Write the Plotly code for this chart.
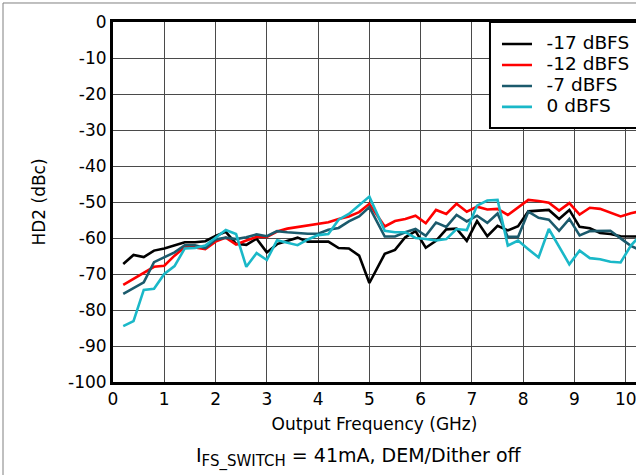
import plotly.graph_objects as go

freq_ghz = [0.2, 0.4, 0.6, 0.8, 1.0, 1.2, 1.4, 1.6, 1.8, 2.0, 2.2, 2.4, 2.6, 2.8, 3.0,
            3.2, 3.4, 3.6, 3.8, 4.0, 4.2, 4.4, 4.6, 4.8, 5.0,
            5.3, 5.5, 5.7, 5.9, 6.1, 6.3, 6.5, 6.7, 6.9, 7.1, 7.3, 7.5, 7.7, 7.9, 8.1,
            8.3, 8.5, 8.7, 8.9, 9.1, 9.3, 9.5, 9.7, 9.9, 10.1, 10.3]

hd2_m17 = [-67.2, -64.7, -65.3, -63.5, -62.9, -62.1, -61.2, -61.2, -60.9, -59.4, -58.3, -61.6, -61.9,
           -60.2, -64.0, -61.7, -60.8, -59.9, -61.0, -61.0, -61.0, -62.8, -62.9, -64.9, -72.5,
           -64.4, -63.3, -59.8, -58.1, -62.7, -60.8, -57.6, -57.4, -60.8, -55.3, -59.5, -56.6, -57.9,
           -56.7, -52.6, -52.5, -52.2, -54.7, -52.2, -56.9, -57.3, -58.6, -58.9, -59.5, -59.6, -59.6]

hd2_m12 = [-73.0, -71.4, -69.6, -68.0, -67.7, -64.9, -62.6, -62.6, -63.1, -61.0, -59.9, -61.8, -60.7,
           -59.7, -59.7, -58.2, -57.4, -57.0, -56.5, -56.2, -55.6, -54.7, -54.0, -52.8, -50.5,
           -56.8, -55.3, -54.7, -53.8, -55.9, -52.2, -53.3, -50.5, -52.7, -51.3, -52.1, -51.9, -53.6,
           -51.4, -49.4, -49.7, -50.2, -52.4, -50.3, -53.5, -51.6, -51.9, -53.0, -54.0, -53.1, -52.5]

hd2_m7 = [-75.5, -73.8, -72.3, -66.7, -65.4, -64.0, -62.0, -62.0, -62.8, -60.4, -59.9, -60.3, -59.8,
          -59.0, -59.5, -58.1, -58.4, -58.7, -58.8, -58.8, -57.7, -57.2, -55.4, -54.0, -51.4,
          -59.6, -59.6, -58.4, -57.5, -59.4, -55.7, -56.9, -53.6, -55.4, -53.8, -55.8, -53.2, -59.7,
          -59.7, -52.7, -54.4, -54.9, -58.0, -54.7, -59.3, -58.1, -58.0, -58.0, -60.1, -62.2, -63.5]

hd2_0 = [-84.5, -83.1, -74.4, -74.1, -70.0, -67.8, -62.9, -62.8, -62.1, -60.0, -57.8, -58.9, -68.0,
         -64.2, -66.1, -60.6, -61.4, -62.0, -60.4, -59.2, -58.9, -54.9, -53.3, -51.0, -48.5,
         -58.0, -58.4, -58.4, -60.0, -60.3, -60.7, -60.3, -57.5, -57.8, -51.0, -49.6, -49.4, -62.1,
         -60.7, -63.1, -65.4, -57.5, -62.6, -67.3, -63.5, -65.6, -65.9, -66.6, -66.8, -62.1, -59.0]

series_names = ["-17 dBFS", "-12 dBFS", "-7 dBFS", "0 dBFS"]
series_colors = ["#000000", "#ff0000", "#1b5a6c", "#1ab8c8"]
series_values = [hd2_m17, hd2_m12, hd2_m7, hd2_0]

x_ticks = [0, 1, 2, 3, 4, 5, 6, 7, 8, 9, 10]
y_ticks = [0, -10, -20, -30, -40, -50, -60, -70, -80, -90, -100]

FONT = "DejaVu Sans, Liberation Sans, sans-serif"

fig = go.Figure()
for name, color, vals in zip(series_names, series_colors, series_values):
    fig.add_trace(go.Scatter(
        x=freq_ghz, y=vals, mode="lines",
        name="<span style='font-size:18.5px'>\u00a0\u2009" + name + "</span>",
        line=dict(color=color, width=2.6)))

fig.update_layout(
    width=636, height=475,
    margin=dict(l=113, r=0, t=22, b=93, autoexpand=False),
    paper_bgcolor="white", plot_bgcolor="white",
    font=dict(family=FONT, size=17, color="black"),
    showlegend=True,
    legend=dict(x=0.7342, y=0.9817, xanchor="left", yanchor="top",
                bgcolor="rgba(0,0,0,0)", borderwidth=0,
                font=dict(size=13.8, family=FONT), tracegroupgap=0),
    xaxis=dict(range=[0, 10.2], tickvals=x_ticks, ticktext=[str(v) for v in x_ticks],
               showgrid=True, gridcolor="#4a4a4a", gridwidth=1.2,
               showline=True, linecolor="black", linewidth=3, mirror=True,
               ticks="", zeroline=False, tickfont=dict(size=17), ticklabeloverflow="allow",
               title=dict(text="Output Frequency (GHz)", standoff=10, font=dict(size=17))),
    yaxis=dict(range=[-100, 0], tickvals=y_ticks, ticktext=[str(v) for v in y_ticks],
               showgrid=True, gridcolor="#4a4a4a", gridwidth=1.2,
               showline=True, linecolor="black", linewidth=3, mirror=True,
               ticks="", zeroline=False, tickfont=dict(size=17),
               title=dict(text="HD2 (dBc)", standoff=19, font=dict(size=17))),
    annotations=[dict(text="I<sub><span style='font-size:15px'>FS_SWITCH</span></sub> = 41mA, DEM/Dither off",
                      xref="paper", yref="paper", x=0.47, y=-0.211,
                      xanchor="center", yanchor="middle", showarrow=False,
                      font=dict(size=19, family=FONT))],
    shapes=[dict(type="rect", xref="paper", yref="paper",
                 x0=-0.2103, x1=1.01, y0=-0.28, y1=1.0528,
                 line=dict(color="#808080", width=1), layer="below"),
            dict(type="rect", xref="paper", yref="paper",
                 x0=0.7208, x1=1.01, y0=0.7056, y1=1.0,
                 fillcolor="white", line=dict(color="black", width=2), layer="above")],
)

fig.write_html("out.html", config={"displayModeBar": False},
               post_script="document.body.style.margin='0';document.body.style.overflow='hidden';")
